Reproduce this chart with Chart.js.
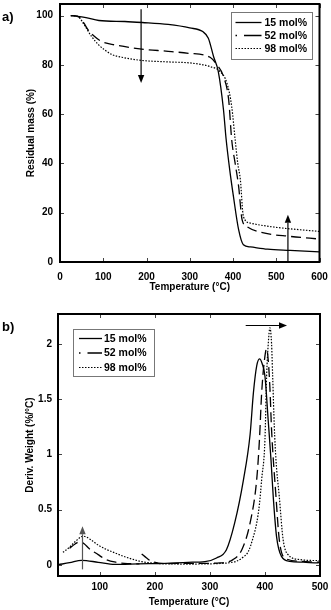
<!DOCTYPE html>
<html>
<head>
<meta charset="utf-8">
<script src="https://cdn.jsdelivr.net/npm/chart.js@4/dist/chart.umd.min.js"></script>
<style>
  html, body { margin: 0; padding: 0; background: #fff; }
  canvas { display: block; }
</style>
</head>
<body>
<canvas id="tga" width="331" height="300"></canvas>
<canvas id="dtg" width="331" height="310"></canvas>
<script>
// ---- data: a) residual mass vs temperature ----
const seriesLabels = ['15 mol%', '52 mol%', '98 mol%'];

const tgaT15 = [25, 60, 90, 150, 190, 250, 300, 330, 343, 355, 366, 378, 384, 392, 401, 413, 424, 440, 480, 532, 600];
const tgaM15 = [100, 99.2, 98, 97.6, 97.2, 96.4, 95, 93.5, 90.8, 83.4, 77.3, 61.8, 50, 38, 26.6, 13.1, 7, 6.1, 5.2, 4.7, 4.1];

const tgaT52 = [25, 42, 55, 65, 80, 96, 127, 189, 250, 297, 347, 363, 378, 390, 397, 405, 413, 421, 432, 471, 532, 600];
const tgaM52 = [100, 99.6, 97, 94.2, 91.5, 89.5, 88.1, 86.4, 85.5, 84.7, 83.1, 80, 75.3, 65.8, 49.6, 40, 30.7, 17.2, 14.4, 11.8, 10.4, 9.3];

const tgaT98 = [25, 42, 55, 73, 90, 104, 120, 143, 189, 250, 305, 347, 370, 386, 397, 405, 411, 417, 424, 440, 494, 600];
const tgaM98 = [100, 99.6, 96.5, 91.5, 88, 86, 84.2, 83.1, 81.8, 81.2, 80.7, 79.3, 77.3, 72.6, 63.1, 49.6, 40, 33.4, 18.5, 15.8, 14.2, 12.4];

const tgaXTicks = [0, 100, 200, 300, 400, 500, 600];
const tgaYTicks = [0, 20, 40, 60, 80, 100];

// ---- data: b) derivative weight vs temperature ----
const dtgT15 = [25, 45, 67, 97, 127, 170, 220, 260, 291, 312, 330, 345, 361, 373, 379, 385, 390, 395, 400, 406, 411, 415, 421, 430, 445, 470, 497, 500];
const dtgW15 = [0.003, 0.02, 0.042, 0.024, 0.005, 0.01, 0.015, 0.024, 0.03, 0.063, 0.138, 0.38, 0.772, 1.18, 1.556, 1.8, 1.864, 1.82, 1.707, 1.3, 0.95, 0.62, 0.259, 0.078, 0.033, 0.025, 0.018, 0.04];

const dtgT52 = [45, 55, 63, 72, 80, 97, 109, 130, 150, 172, 174, 176, 185, 194, 220, 260, 300, 318, 342, 358, 373, 385, 390, 394, 399, 403, 406, 409, 412, 420, 426, 436, 464, 497, 500];
const dtgW52 = [0.15, 0.19, 0.21, 0.19, 0.15, 0.093, 0.054, 0.024, 0.012, 0.01, null, 0.1, 0.063, 0.033, 0.012, 0.015, 0.015, 0.018, 0.048, 0.138, 0.38, 0.772, 1.134, 1.556, 1.85, 1.955, 1.85, 1.6, 1.224, 0.62, 0.229, 0.063, 0.033, 0.025, 0.03];

const dtgT98 = [33, 45, 55, 70, 83, 97, 112, 127, 142, 158, 176, 194, 220, 260, 300, 318, 335, 348, 360, 370, 378, 385, 390, 394, 400, 403, 406, 409, 412, 414, 417, 420, 426, 433, 442, 464, 497, 500];
const dtgW98 = [0.114, 0.16, 0.21, 0.26, 0.23, 0.18, 0.14, 0.11, 0.08, 0.054, 0.03, 0.018, 0.01, 0.008, 0.01, 0.013, 0.02, 0.033, 0.07, 0.123, 0.24, 0.38, 0.55, 0.772, 1.134, 1.707, 2.0, 2.145, 2.0, 1.707, 1.25, 0.95, 0.62, 0.229, 0.093, 0.048, 0.04, 0.04];

const dtgXTicks = [100, 200, 300, 400, 500];
const dtgYTicks = [0, 0.5, 1, 1.5, 2];

// arrows, in data units: [x1, y1, x2, y2]
const tgaArrows = [[187.5, 102.6, 187.5, 72.6], [527, 0, 527, 19.2]];
const dtgArrows = [[68.5, -0.04, 68.5, 0.35], [365, 2.166, 440, 2.166]];
const tgaArrowColors = ['#000', '#000'];
const dtgArrowColors = ['#555', '#000'];

const FONT = "'Liberation Sans', Arial, sans-serif";
const lineStyles = [
    { dash: [], legendDash: [], width: 1.3 },
    { dash: [10, 5], legendDash: [1.5, 7, 18, 10], width: 1.3 },
    { dash: [1.5, 1.5], legendDash: [1.5, 1.5], width: 1.2 }
];

function toPoints(xs, ys) {
    return xs.map((x, i) => ({ x: x, y: ys[i] }));
}

function makeDatasets(pairs) {
    return pairs.map((p, i) => ({
        label: seriesLabels[i],
        data: toPoints(p[0], p[1]),
        borderColor: '#000',
        borderWidth: lineStyles[i].width,
        borderDash: lineStyles[i].dash,
        pointRadius: 0,
        fill: false,
        cubicInterpolationMode: 'monotone',
        spanGaps: false
    }));
}

// frame with inward tick marks on all four sides
const framePlugin = {
    id: 'frame',
    afterDatasetsDraw(chart) {
        const { ctx, chartArea: a, scales: { x, y } } = chart;
        ctx.save();
        ctx.strokeStyle = '#444';
        ctx.lineWidth = 1;
        ctx.beginPath();
        x.ticks.forEach(t => {
            const px = Math.round(x.getPixelForValue(t.value)) + 0.5;
            ctx.moveTo(px, a.bottom); ctx.lineTo(px, a.bottom - 4);
            ctx.moveTo(px, a.top); ctx.lineTo(px, a.top + 4);
        });
        y.ticks.forEach(t => {
            const py = Math.round(y.getPixelForValue(t.value)) + 0.5;
            ctx.moveTo(a.left, py); ctx.lineTo(a.left + 4, py);
            ctx.moveTo(a.right, py); ctx.lineTo(a.right - 4, py);
        });
        ctx.stroke();
        ctx.strokeStyle = '#000';
        ctx.lineWidth = 2;
        ctx.strokeRect(a.left, a.top, a.right - a.left, a.bottom - a.top);
        ctx.restore();
    }
};

const arrowPlugin = {
    id: 'arrows',
    afterDatasetsDraw(chart, args, opts) {
        const { ctx, scales: { x, y } } = chart;
        ctx.save();
        (opts.list || []).forEach((ar, i) => {
            const x1 = x.getPixelForValue(ar[0]), y1 = y.getPixelForValue(ar[1]);
            const x2 = x.getPixelForValue(ar[2]), y2 = y.getPixelForValue(ar[3]);
            const ang = Math.atan2(y2 - y1, x2 - x1);
            const len = 8, half = 3.2;
            const bx = x2 - len * Math.cos(ang), by = y2 - len * Math.sin(ang);
            ctx.strokeStyle = opts.colors[i];
            ctx.fillStyle = opts.colors[i];
            ctx.lineWidth = 1.2;
            ctx.beginPath();
            ctx.moveTo(x1, y1); ctx.lineTo(bx, by);
            ctx.stroke();
            ctx.beginPath();
            ctx.moveTo(x2, y2);
            ctx.lineTo(bx + half * Math.sin(ang), by - half * Math.cos(ang));
            ctx.lineTo(bx - half * Math.sin(ang), by + half * Math.cos(ang));
            ctx.closePath();
            ctx.fill();
        });
        ctx.restore();
    }
};

// boxed legend with line samples
const boxLegendPlugin = {
    id: 'boxLegend',
    afterDraw(chart, args, o) {
        const { ctx, chartArea: a } = chart;
        const bx = o.fromRight ? a.right - o.dx - o.w : a.left + o.dx;
        const by = a.top + o.dy;
        ctx.save();
        ctx.fillStyle = '#fff';
        ctx.fillRect(bx, by, o.w, o.h);
        ctx.strokeStyle = '#777';
        ctx.lineWidth = 1;
        ctx.strokeRect(Math.round(bx) + 0.5, Math.round(by) + 0.5, o.w, o.h);
        ctx.font = 'bold 10.5px ' + FONT;
        ctx.fillStyle = '#000';
        ctx.textBaseline = 'middle';
        chart.data.datasets.forEach((ds, i) => {
            const ry = by + o.firstRow + i * o.rowGap;
            ctx.strokeStyle = '#000';
            ctx.lineWidth = lineStyles[i].width;
            ctx.setLineDash(lineStyles[i].legendDash);
            ctx.beginPath();
            ctx.moveTo(bx + o.lineX, ry);
            ctx.lineTo(bx + o.lineX + o.lineLen, ry);
            ctx.stroke();
            ctx.setLineDash([]);
            ctx.fillText(ds.label, bx + o.textX, ry + 0.5);
        });
        ctx.restore();
    }
};

const panelLabelPlugin = {
    id: 'panelLabel',
    afterDraw(chart, args, o) {
        const ctx = chart.ctx;
        ctx.save();
        ctx.font = 'bold 13px ' + FONT;
        ctx.fillStyle = '#000';
        ctx.textBaseline = 'middle';
        ctx.fillText(o.text, o.x, o.y);
        ctx.restore();
    }
};

function axis(min, max, tickList, title, opts) {
    return {
        type: 'linear',
        min: min,
        max: max,
        afterBuildTicks: s => { s.ticks = tickList.map(v => ({ value: v })); },
        afterFit: s => {
            if (opts.width) s.width = opts.width;
            if (opts.height) s.height = opts.height;
            s.paddingTop = 0;
            s.paddingBottom = 0;
            s.paddingLeft = 0;
            s.paddingRight = 0;
        },
        grid: { display: false, drawTicks: false },
        border: { display: false },
        ticks: {
            color: '#000',
            padding: opts.pad,
            maxRotation: 0,
            font: { family: FONT, size: 10, weight: 'bold' },
            callback: v => String(v)
        },
        title: {
            display: true,
            text: title,
            color: '#000',
            padding: opts.titlePad,
            font: { family: FONT, size: 10, weight: 'bold' }
        }
    };
}

function makeChart(id, datasets, cfg) {
    return new Chart(document.getElementById(id), {
        type: 'line',
        data: { datasets: datasets },
        options: {
            responsive: false,
            animation: false,
            events: [],
            layout: { padding: cfg.padding },
            scales: { x: cfg.x, y: cfg.y },
            plugins: {
                legend: { display: false },
                tooltip: { enabled: false },
                arrows: { list: cfg.arrows, colors: cfg.arrowColors },
                boxLegend: cfg.legend,
                panelLabel: cfg.panel
            }
        },
        plugins: [framePlugin, arrowPlugin, boxLegendPlugin, panelLabelPlugin]
    });
}

makeChart('tga', makeDatasets([[tgaT15, tgaM15], [tgaT52, tgaM52], [tgaT98, tgaM98]]), {
    padding: { top: 4, right: 11.5, left: 0, bottom: 0 },
    x: axis(0, 600, tgaXTicks, 'Temperature (°C)', { height: 38, pad: 9, titlePad: { top: 0, bottom: 7 } }),
    y: axis(0, 104.7, tgaYTicks, 'Residual mass (%)', { width: 60, pad: 7, titlePad: { top: 25, bottom: 0 } }),
    arrows: tgaArrows,
    arrowColors: tgaArrowColors,
    legend: { fromRight: true, dx: 8, dy: 7.5, w: 81, h: 47, firstRow: 11, rowGap: 13, lineX: 5, lineLen: 26, textX: 34 },
    panel: { text: 'a)', x: 2, y: 17 }
});

makeChart('dtg', makeDatasets([[dtgT15, dtgW15], [dtgT52, dtgW52], [dtgT98, dtgW98]]), {
    padding: { top: 14, right: 11, left: 0, bottom: 0 },
    x: axis(24, 500, dtgXTicks, 'Temperature (°C)', { height: 34, pad: 5, titlePad: { top: 0, bottom: 2 } }),
    y: axis(-0.1, 2.27, dtgYTicks, 'Deriv. Weight (%/°C)', { width: 58, pad: 6, titlePad: { top: 24, bottom: 0 } }),
    arrows: dtgArrows,
    arrowColors: dtgArrowColors,
    legend: { fromRight: false, dx: 15, dy: 15, w: 81, h: 47, firstRow: 9.5, rowGap: 14.5, lineX: 6, lineLen: 23, textX: 31 },
    panel: { text: 'b)', x: 2, y: 27 }
});
</script>
</body>
</html>
